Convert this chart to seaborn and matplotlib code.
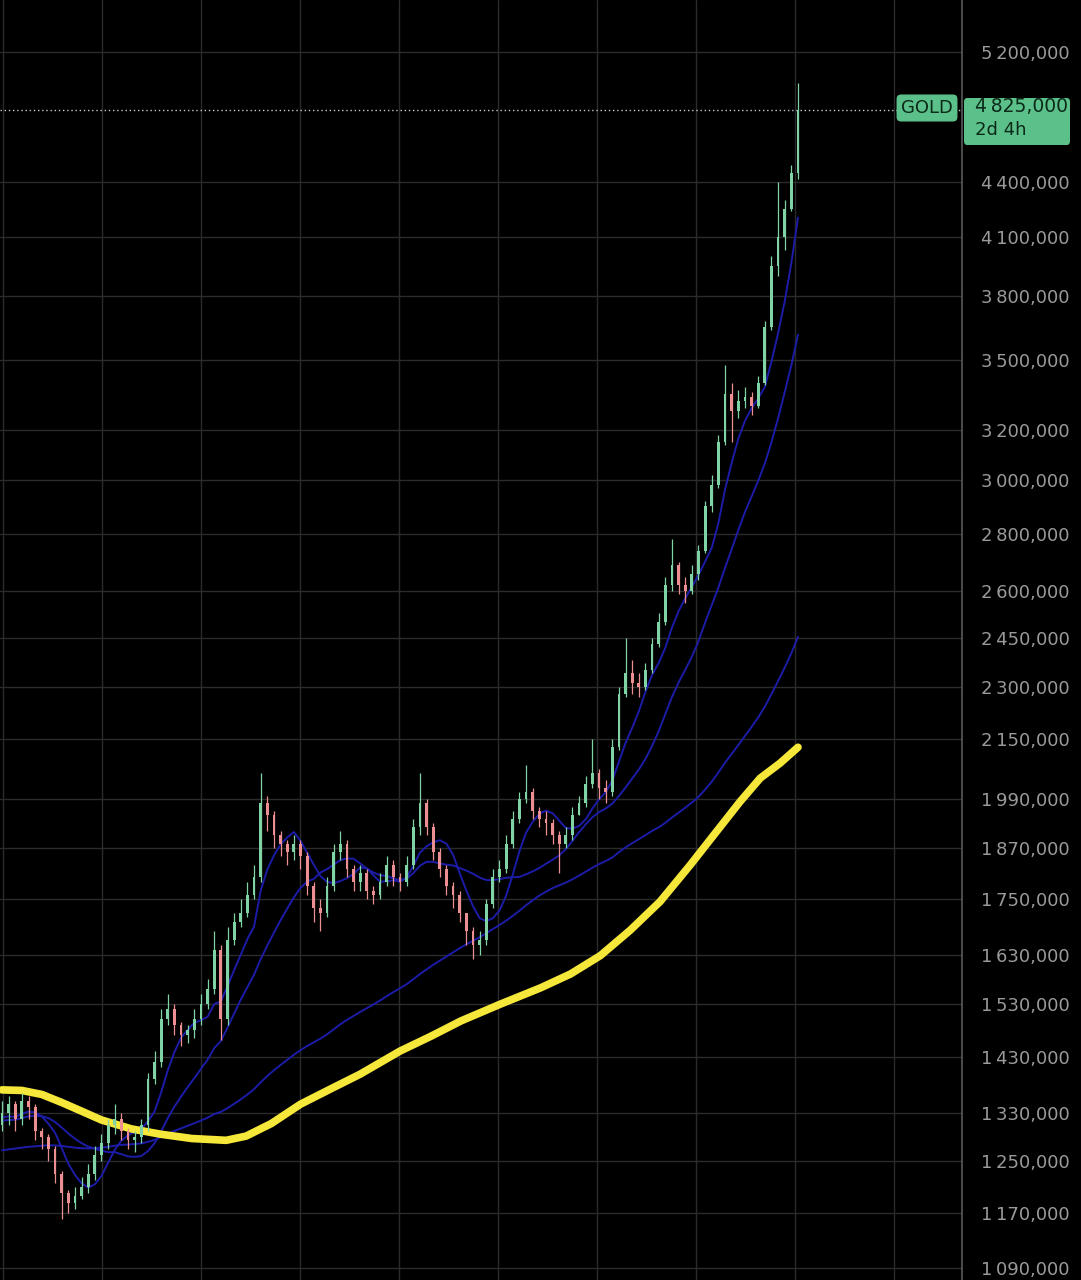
import numpy as np
import pandas as pd
import matplotlib
matplotlib.use("Agg")
import matplotlib.pyplot as plt
import seaborn as sns

sns.set_theme(style="dark")
plt.rcParams['font.family'] = ['DejaVu Sans']

warmup = [1260,1250,1240,1255,1265,1250,1235,1225,1240,1255,1270,1280,1265,1250,1240,1230,1220,1210,1225,1240,
          1250,1245,1235,1225,1215,1205,1200,1210,1225,1240,1255,1265,1275,1280,1270,1260,1250,1245,1240,1255,
          1270,1285,1300,1310,1320,1330,1325,1315,1305,1295,1290,1300,1315,1330,1340,1335,1325,1320,1315,1310]
closes = [1330,1345,1320,1350,1340,1300,1290,1270,1230,1200,1185,1195,1210,1230,1260,1280,1310,1320,1300,1285,
          1290,1310,1390,1420,1500,1520,1490,1470,1480,1500,1530,1560,1640,1500,1660,1700,1720,1760,1800,1980,
          1950,1900,1880,1860,1880,1850,1780,1730,1720,1780,1860,1880,1820,1790,1810,1770,1760,1790,1830,1800,
          1790,1830,1920,1980,1920,1860,1820,1780,1760,1720,1680,1650,1660,1740,1800,1820,1880,1940,1990,2010,
          1960,1940,1930,1900,1880,1900,1950,1980,2030,2060,2020,2010,2130,2280,2340,2310,2300,2350,2430,2500,
          2620,2690,2620,2600,2660,2740,2900,2980,3150,3350,3280,3320,3340,3300,3400,3650,3950,4100,4250,4450,4825]
highs = [1350,1360,1350,1365,1360,1345,1305,1295,1275,1235,1205,1210,1225,1245,1275,1295,1320,1345,1330,1305,
         1300,1320,1400,1440,1520,1550,1530,1495,1490,1520,1550,1580,1680,1650,1690,1720,1750,1790,1830,2060,
         2000,1960,1910,1890,1900,1890,1860,1790,1750,1800,1880,1910,1890,1830,1830,1820,1780,1810,1850,1840,
         1810,1850,1940,2060,1990,1930,1870,1830,1790,1770,1720,1690,1680,1750,1820,1840,1900,1960,2010,2080,
         2020,1970,1960,1940,1910,1920,1970,2000,2050,2150,2070,2040,2150,2300,2450,2380,2340,2370,2450,2530,
         2650,2780,2700,2650,2690,2760,2920,3020,3180,3480,3400,3370,3380,3360,3430,3680,4000,4400,4300,4500,5000]
lows = [1300,1310,1300,1310,1320,1285,1270,1250,1215,1160,1170,1175,1190,1200,1220,1250,1270,1295,1285,1270,
        1265,1280,1300,1380,1410,1490,1470,1450,1455,1465,1490,1520,1550,1460,1490,1650,1690,1710,1750,1790,
        1910,1870,1850,1830,1840,1820,1760,1700,1680,1710,1770,1840,1800,1770,1770,1750,1740,1750,1780,1780,
        1770,1780,1820,1900,1900,1840,1800,1760,1730,1700,1650,1620,1630,1650,1730,1790,1810,1870,1930,1980,
        1940,1920,1900,1880,1810,1870,1890,1950,1970,2020,1990,1980,2000,2120,2270,2280,2270,2290,2340,2420,
        2490,2600,2590,2560,2590,2640,2730,2880,2970,3140,3150,3250,3290,3260,3290,3390,3640,3900,4030,4240,4420]
first_open = 1310

yellow_idx = [0, 3, 6, 9, 12, 15, 19.5, 24, 28.6, 33.8, 36.8, 40.6, 45, 49.6, 54, 60, 64.7, 69.2, 75.2,
              81.2, 85.7, 90.2, 94.7, 99.2, 103.8, 107.5, 111.3, 114.3, 117.3, 120]
yellow_val = [1370, 1369, 1362, 1348, 1333, 1318, 1303, 1294, 1287, 1284, 1291, 1312, 1345, 1372, 1398, 1440,
              1468, 1497, 1530, 1562, 1590, 1628, 1682, 1745, 1830, 1905, 1985, 2045, 2085, 2128]

ma_windows = [6, 15, 60]
tick_vals = [5200, 4400, 4100, 3800, 3500, 3200, 3000, 2800, 2600, 2450, 2300, 2150, 1990, 1870,
             1750, 1630, 1530, 1430, 1330, 1250, 1170, 1090]
last_price = 4825

S = 1000
n = len(closes)
idx = np.arange(n)
c = np.array(closes) * S
o = np.array([first_open] + closes[:-1]) * S
h = np.maximum(np.array(highs) * S, np.maximum(o, c))
l = np.minimum(np.array(lows) * S, np.minimum(o, c))

W, H = 1081, 1280
fig = plt.figure(figsize=(W / 100, H / 100), dpi=100, facecolor='black')
axw = 962 / W
ax = fig.add_axes([0, 0, axw, 1])
ax.set_facecolor('black')
ax.set_yscale('log')

xmin = -0.3
xmax = xmin + (n - 1 - xmin) * 962 / 798
ax.set_xlim(xmin, xmax)
ax.set_ylim(1073000, 5560000)

for t in tick_vals:
    ax.axhline(t * S, color='#2b2b2b', lw=1, zorder=0)
for px in [3, 102, 201, 300, 399, 498, 597, 696, 795, 894]:
    ax.axvline(xmin + px / 962 * (xmax - xmin), color='#2b2b2b', lw=1, zorder=0)

full = pd.Series(np.array(warmup + closes, dtype=float) * S)
for wdw in ma_windows:
    ma = full.rolling(wdw, min_periods=1).mean().values[len(warmup):]
    sns.lineplot(x=idx, y=ma, ax=ax, color='#1c1ca8', lw=1.4, zorder=2)
sns.lineplot(x=yellow_idx, y=np.array(yellow_val) * S, ax=ax, color='#f6e83a', lw=5.5, zorder=3,
             solid_capstyle='round', solid_joinstyle='round')

up = c >= o
cols = np.where(up, '#7fd3a4', '#ec8f93')
ax.vlines(idx, l, h, colors=cols, lw=0.9, zorder=4)
ax.bar(idx, np.maximum(np.abs(c - o), 1500), bottom=np.minimum(o, c), width=0.42, color=cols,
       edgecolor='none', zorder=5)

ax.axhline(last_price * S, color='#c8c8c8', lw=1, ls=(0, (1, 2)), zorder=1)

ax.yaxis.tick_right()
ax.set_yticks([t * S for t in tick_vals])
ax.set_yticklabels([f"{t // 1000}\u2009{t % 1000:03d},000" for t in tick_vals])
ax.yaxis.set_minor_locator(matplotlib.ticker.NullLocator())
ax.tick_params(axis='y', colors='#9a9a9a', labelsize=13, length=0, pad=14)
ax.set_xticks([])
for s in ['top', 'left', 'bottom']:
    ax.spines[s].set_visible(False)
ax.spines['right'].set_color('#5a5a5a')
ax.spines['right'].set_linewidth(1.2)

y108 = 1 - 108 / H
fig.text(927 / W, y108, "GOLD", ha='center', va='center', fontsize=13, color='#0b2a18',
         bbox=dict(boxstyle='round,pad=0.25', fc='#5cc08a', ec='none'))
fig.patches.append(matplotlib.patches.FancyBboxPatch((964 / W, 1 - 145 / H), 106 / W, 47 / H,
                   boxstyle='round,pad=0,rounding_size=0.003', fc='#5cc08a', ec='none',
                   transform=fig.transFigure, figure=fig))
fig.text(975 / W, 1 - 107 / H, "4\u2009825,000", ha='left', va='center', fontsize=13.5, color='#0b2a18')
fig.text(975 / W, 1 - 130 / H, "2d 4h", ha='left', va='center', fontsize=13, color='#0b2a18')

fig.savefig('out.png', dpi=100, facecolor='black')
